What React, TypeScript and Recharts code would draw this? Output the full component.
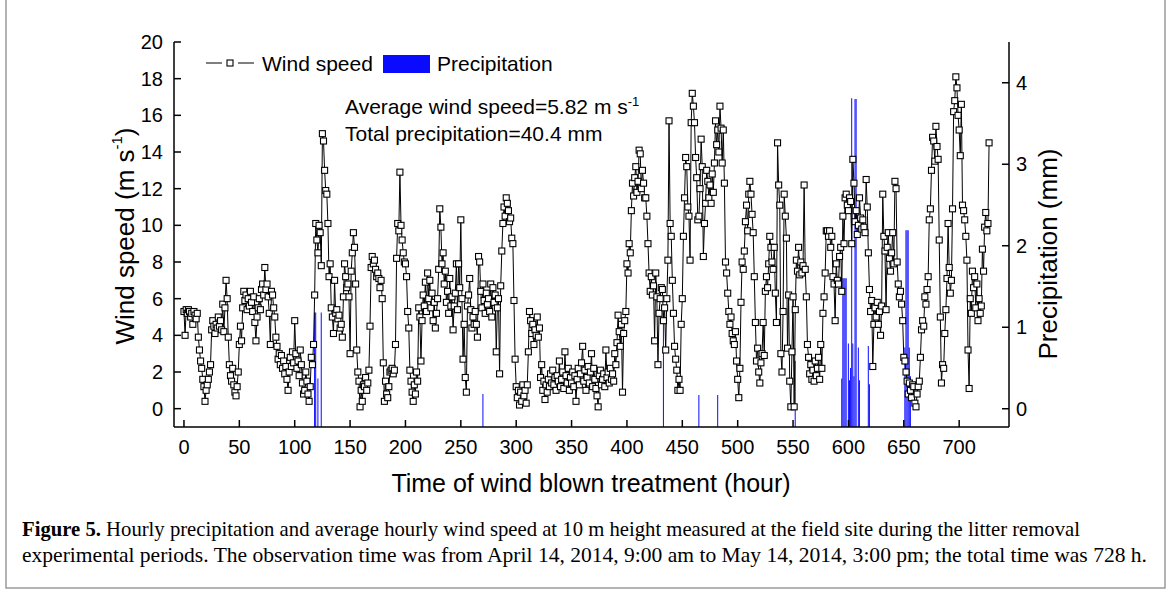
import React from "react";
import { ComposedChart, Line, Bar, XAxis, YAxis, Legend } from "recharts";

// hourly wind speed (m/s), split per 100 h
const wind000 = [
  5.3, 4.0, 5.4, 5.2, 5.4, 5.3, 5.0, 5.2, 4.6, 5.3,
  5.1, 4.9, 5.2, 3.9, 3.2, 2.6, 2.2, 1.6, 1.2, 0.4,
  1.0, 1.3, 1.6, 2.0, 2.4, 4.3, 4.8, 4.5, 4.1, 4.6,
  4.4, 5.0, 4.5, 4.8, 4.3, 5.7, 4.2, 5.5, 7.0, 6.0,
  3.9, 2.4, 1.8, 1.5, 2.2, 1.3, 0.9, 0.7, 1.2, 2.0,
  3.5, 4.5, 3.7, 5.5, 6.4, 5.9, 6.2, 5.4, 6.0, 5.6,
  6.4, 5.8, 5.3, 6.1, 4.7, 3.7, 5.0, 5.5, 6.0, 5.4,
  6.5, 6.8, 6.2, 7.7, 6.5, 6.8, 6.1, 5.2, 3.5, 6.4,
  6.2, 5.5, 5.0, 3.9, 3.4, 2.7, 3.0, 2.4, 2.9, 2.2,
  2.6, 1.9, 2.3, 1.6, 1.0, 2.0, 2.8, 2.3, 3.1, 2.5,
];
const wind100 = [
  4.8, 3.0, 2.2, 2.6, 1.8, 3.2, 2.4, 1.4, 0.8, 1.0,
  2.0, 1.5, 0.8, 0.4, 1.2, 2.8, 2.4, 3.5, 6.2, 10.1,
  9.2, 8.5, 10.0, 9.6, 7.8, 15.0, 14.6, 13.0, 11.9, 11.7,
  10.1, 7.2, 7.9, 5.5, 5.0, 4.1, 7.0, 5.2, 5.4, 4.9,
  5.1, 4.4, 4.6, 3.9, 6.1, 7.9, 7.2, 6.6, 6.8, 6.1,
  3.0, 7.5, 8.5, 9.6, 8.8, 6.8, 3.2, 2.0, 1.5, 0.1,
  1.0, 0.4, 1.3, 1.2, 1.7, 1.0, 1.4, 2.1, 4.5, 7.7,
  8.3, 7.9, 8.1, 7.6, 7.2, 7.4, 7.1, 6.6, 7.0, 6.0,
  2.5, 0.4, 1.5, 0.8, 0.6, 1.2, 2.0, 2.1, 2.2, 1.9,
  2.1, 3.5, 8.2, 10.1, 9.7, 12.9, 10.0, 9.2, 8.5, 8.0,
];
const wind200 = [
  7.9, 7.2, 5.3, 4.4, 2.1, 1.5, 0.9, 0.4, 1.3, 0.8,
  2.0, 1.5, 5.5, 5.0, 2.6, 4.8, 6.2, 5.6, 6.9, 5.3,
  7.4, 6.0, 7.0, 5.5, 6.3, 4.8, 5.8, 4.4, 5.2, 6.0,
  7.6, 10.9, 9.9, 7.9, 8.5, 6.8, 7.5, 5.8, 6.4, 5.2,
  7.1, 5.6, 6.1, 4.3, 5.6, 6.3, 7.9, 5.4, 7.9, 6.6,
  10.3, 6.0, 2.7, 4.6, 1.7, 0.9, 5.6, 6.2, 7.1, 5.4,
  4.4, 5.0, 4.6, 5.3, 4.6, 3.9, 8.3, 8.0, 6.4, 5.5,
  6.8, 5.9, 5.2, 6.3, 5.7, 6.0, 5.3, 6.8, 5.0, 6.6,
  5.8, 6.2, 3.1, 5.5, 6.0, 1.9, 6.7, 8.6, 10.1, 11.0,
  10.5, 11.5, 11.2, 10.8, 10.2, 10.4, 9.3, 9.0, 5.9, 2.7,
];
const wind300 = [
  1.2, 0.6, 1.0, 0.2, 0.9, 0.4, 1.3, 0.7, 1.0, 0.3,
  1.3, 3.1, 5.3, 4.8, 4.1, 4.6, 3.5, 4.3, 4.0, 5.0,
  3.9, 4.4, 1.7, 2.4, 1.0, 1.5, 0.5, 1.3, 0.9, 1.6,
  1.2, 1.9, 1.4, 2.1, 1.3, 1.7, 1.0, 1.8, 1.5, 2.6,
  1.2, 1.6, 2.0, 1.1, 3.1, 1.8, 1.4, 2.2, 1.0, 1.7,
  1.4, 2.0, 1.2, 1.8, 0.4, 1.6, 2.2, 1.3, 1.9, 2.5,
  3.4, 1.5, 2.1, 1.0, 1.7, 2.3, 1.4, 2.0, 3.0, 1.2,
  2.2, 1.6, 1.1, 0.7, 0.1, 1.8, 2.1, 1.3, 1.6, 1.9,
  1.2, 3.2, 1.7, 2.0, 1.4, 2.2, 1.6, 1.9, 1.5, 3.0,
  2.4, 3.6, 5.1, 4.2, 3.4, 4.6, 0.9, 4.1, 4.8, 5.3,
];
const wind400 = [
  7.9, 7.4, 9.0, 8.5, 10.8, 12.3, 11.6, 12.6, 13.2, 11.8,
  12.4, 14.1, 13.9, 12.0, 13.0, 12.3, 11.5, 11.5, 10.5, 9.0,
  7.4, 6.4, 7.2, 6.2, 6.7, 3.7, 7.4, 6.1, 2.4, 5.2,
  6.0, 6.6, 6.5, 4.8, 5.5, 3.2, 6.0, 8.1, 15.7, 10.1,
  9.4, 7.0, 5.2, 3.4, 2.7, 2.1, 1.0, 1.6, 1.0, 4.6,
  6.0, 9.4, 11.5, 13.7, 13.2, 11.0, 10.5, 8.1, 15.6, 17.2,
  16.5, 15.6, 13.7, 12.6, 10.3, 10.5, 12.0, 14.7, 13.2, 8.3,
  10.1, 11.2, 13.0, 12.4, 11.5, 12.2, 11.2, 12.8, 11.8, 13.4,
  15.7, 14.4, 15.2, 14.0, 16.5, 15.3, 13.4, 15.2, 12.3, 8.0,
  7.4, 6.3, 5.3, 4.6, 5.0, 4.1, 3.7, 3.5, 4.2, 2.6,
];
const wind500 = [
  1.6, 0.6, 2.2, 5.8, 8.0, 7.6, 8.6, 10.2, 11.1, 9.7,
  11.7, 12.4, 11.7, 10.6, 9.6, 7.2, 4.7, 2.6, 3.3, 2.0,
  1.4, 2.5, 3.0, 4.7, 2.9, 6.4, 7.2, 6.6, 7.9, 9.4,
  8.8, 8.0, 7.6, 8.8, 6.3, 4.7, 14.5, 12.2, 11.1, 3.0,
  2.0, 5.3, 11.7, 10.5, 9.3, 3.3, 6.2, 1.5, 0.1, 3.1,
  6.1, 0.1, 5.4, 8.1, 7.5, 8.8, 7.3, 8.0, 7.4, 7.8,
  12.2, 7.6, 6.1, 3.5, 2.8, 1.9, 2.4, 1.6, 2.1, 1.5,
  2.6, 1.8, 2.2, 2.8, 1.6, 3.5, 2.2, 5.2, 6.1, 7.4,
  9.7, 9.7, 9.4, 9.7, 8.8, 9.4, 7.2, 6.8, 4.8, 7.9,
  7.0, 6.8, 8.3, 8.8, 6.4, 10.5, 9.0, 11.5, 11.7, 11.1,
];
const wind600 = [
  10.8, 11.5, 11.3, 9.0, 13.6, 12.3, 10.2, 10.8, 9.5, 10.0,
  11.5, 10.4, 9.8, 10.3, 9.9, 9.6, 12.5, 11.0, 8.5, 6.5,
  5.3, 5.9, 2.3, 4.6, 5.5, 5.0, 5.8, 4.6, 5.3, 4.0,
  5.6, 11.7, 9.4, 8.6, 5.4, 8.8, 9.6, 8.2, 7.5, 8.5,
  9.6, 7.9, 12.4, 12.0, 8.0, 6.8, 6.1, 6.4, 5.7, 4.8,
  2.8, 2.6, 2.0, 1.5, 0.8, 1.4, 1.0, 0.6, 1.3, 1.2,
  0.3, 0.1, 0.8, 1.2, 1.5, 2.8, 4.3, 4.8, 4.5, 6.1,
  5.7, 6.5, 7.2, 10.3, 10.9, 13.0, 14.8, 14.6, 13.5, 15.4,
  14.3, 13.6, 9.2, 5.0, 1.4, 2.4, 2.2, 4.1, 5.4, 7.1,
  10.1, 7.7, 6.3, 7.0, 10.9, 16.2, 16.8, 18.1, 17.5, 16.0,
];
const wind700 = [
  15.2, 13.8, 16.6, 11.1, 10.8, 10.3, 9.4, 8.1, 3.2, 1.1,
  6.0, 5.2, 7.5, 6.6, 7.2, 5.5, 6.8, 4.8, 6.0, 5.2,
  5.6, 8.7, 7.5, 9.9, 10.7, 9.7, 10.1, 14.5,
];

// hourly precipitation (mm): hour of the bar and its height
const rainHours = [
  118, 119, 121, 124, 270, 433, 465, 482, 552,
  594, 595, 596, 597, 598, 600, 601, 602, 603, 604, 605, 606, 607, 609, 610,
  618, 619, 651, 652, 653, 654, 655, 656,
];
const rainAmounts = [
  1.18, 1.18, 0.37, 1.18, 0.18, 1.18, 0.17, 0.17, 0.59,
  0.37, 1.6, 1.6, 1.6, 1.6, 0.8, 0.35, 0.5, 3.81, 0.8, 0.4, 3.8, 3.8, 0.75, 0.35,
  0.77, 0.3, 0.75, 2.19, 2.19, 2.19, 0.75, 0.4,
];

const hourTicks = [0, 50, 100, 150, 200, 250, 300, 350, 400, 450, 500, 550, 600, 650, 700];
const windTicks = [0, 2, 4, 6, 8, 10, 12, 14, 16, 18, 20];
const rainTicks = [0, 1, 2, 3, 4];

const FONT = "'Liberation Sans', Arial, sans-serif";
const SERIF = "'Liberation Serif', 'Times New Roman', serif";
const BLUE = "#0a0aff";
const RAIN_MIN = -0.224;

// plot frame in page pixels
const PLOT_LEFT = 174;
const PLOT_RIGHT = 1009;
const PLOT_BOTTOM = 427;
const TICK_LEN = 7;

const windSpeed = [...wind000, ...wind100, ...wind200, ...wind300, ...wind400, ...wind500, ...wind600, ...wind700];
const rainByHour = new Map(rainHours.map((h, i) => [h, rainAmounts[i]]));

const data = windSpeed.map((w, hour) => ({
  hour,
  wind: w,
  rain: rainByHour.has(hour) ? rainByHour.get(hour) : null,
}));

const Square = (props: any) => {
  const { cx, cy, index } = props;
  if (cx == null || cy == null) return null;
  return (
    <rect key={`sq-${index}`} x={cx - 3} y={cy - 3} width={6} height={6} fill="#fff" stroke="#000" strokeWidth={1.1} />
  );
};

// ticks point into the plot, like the Origin original
const XTick = (props: any) => {
  const { x, y, payload } = props;
  return (
    <g>
      <line x1={x} x2={x} y1={PLOT_BOTTOM} y2={PLOT_BOTTOM - TICK_LEN} stroke="#000" strokeWidth={1.5} />
      <text x={x} y={y} dy="0.71em" textAnchor="middle" fontSize={20} fontFamily={FONT} fill="#000">
        {payload.value}
      </text>
    </g>
  );
};

const LeftTick = (props: any) => {
  const { x, y, payload } = props;
  return (
    <g>
      <line x1={PLOT_LEFT} x2={PLOT_LEFT + TICK_LEN} y1={y} y2={y} stroke="#000" strokeWidth={1.5} />
      <text x={x} y={y} dy="0.355em" textAnchor="end" fontSize={20} fontFamily={FONT} fill="#000">
        {payload.value}
      </text>
    </g>
  );
};

const RightTick = (props: any) => {
  const { x, y, payload } = props;
  return (
    <g>
      <line x1={PLOT_RIGHT} x2={PLOT_RIGHT - TICK_LEN} y1={y} y2={y} stroke="#000" strokeWidth={1.5} />
      <text x={x} y={y} dy="0.355em" textAnchor="start" fontSize={20} fontFamily={FONT} fill="#000">
        {payload.value}
      </text>
    </g>
  );
};

const renderLegend = (props: any) => {
  const items = props.payload || [];
  const windName = items.find((p: any) => p.dataKey === "wind")?.value ?? "Wind speed";
  const rainName = items.find((p: any) => p.dataKey !== "wind")?.value ?? "Precipitation";
  return (
    <svg width={1170} height={100} style={{ position: "absolute", left: 0, top: 0, overflow: "visible" }}>
      <line x1={206} x2={222} y1={63} y2={63} stroke="#000" strokeWidth={1} />
      <rect x={227} y={60} width={6} height={6} fill="#fff" stroke="#000" strokeWidth={1.1} />
      <line x1={238} x2={254} y1={63} y2={63} stroke="#000" strokeWidth={1} />
      <text x={262} y={70.5} fontSize={21} fontFamily={FONT} fill="#000">{windName}</text>
      <rect x={383} y={55} width={47} height={18} fill={BLUE} />
      <text x={437} y={70.5} fontSize={21} fontFamily={FONT} fill="#000">{rainName}</text>
    </svg>
  );
};

export default function App() {
  const axisStroke = { stroke: "#000", strokeWidth: 1.5 };
  return (
    <div style={{ position: "absolute", left: 0, top: 0, width: 1170, height: 594, background: "#fff" }}>
      <ComposedChart
        width={1170}
        height={594}
        data={data}
        margin={{ top: 42, right: 101, bottom: 137, left: 114 }}
      >
        <XAxis
          dataKey="hour"
          type="number"
          domain={[-9, 745]}
          allowDataOverflow
          ticks={hourTicks}
          interval={0}
          height={30}
          tickSize={0}
          tickMargin={13}
          tick={XTick}
          axisLine={axisStroke}
          tickLine={false}
        />
        <XAxis
          xAxisId="top"
          orientation="top"
          dataKey="hour"
          type="number"
          domain={[-9, 745]}
          allowDataOverflow
          height={0}
          tick={false}
          tickLine={false}
          axisLine={axisStroke}
        />
        <YAxis
          yAxisId="wind"
          domain={[-1, 20]}
          allowDataOverflow
          ticks={windTicks}
          interval={0}
          width={60}
          tickSize={0}
          tickMargin={11}
          tick={LeftTick}
          axisLine={axisStroke}
          tickLine={false}
        />
        <YAxis
          yAxisId="rain"
          orientation="right"
          domain={[RAIN_MIN, 4.5]}
          allowDataOverflow
          ticks={rainTicks}
          interval={0}
          width={60}
          tickSize={0}
          tickMargin={7}
          tick={RightTick}
          axisLine={axisStroke}
          tickLine={false}
        />
        <Legend
          content={renderLegend}
          layout="horizontal"
          verticalAlign="middle"
          wrapperStyle={{ top: 0, left: 0, width: 1170, height: 100 }}
        />
        <Bar
          yAxisId="rain"
          name="Precipitation"
          dataKey={(d: any) => (d.rain != null ? [RAIN_MIN, d.rain] : [RAIN_MIN, RAIN_MIN])}
          fill={BLUE}
          barSize={2}
          isAnimationActive={false}
        />
        <Line
          yAxisId="wind"
          name="Wind speed"
          dataKey="wind"
          type="linear"
          stroke="#000"
          strokeWidth={1}
          dot={Square}
          activeDot={false}
          isAnimationActive={false}
        />
      </ComposedChart>
      <svg
        width={1170}
        height={594}
        style={{ position: "absolute", left: 0, top: 0, pointerEvents: "none" }}
      >
        <text x={345} y={114} fontSize={21} fontFamily={FONT} fill="#000">
          Average wind speed=5.82 m s<tspan dy={-8} fontSize={13}>-1</tspan>
        </text>
        <text x={345} y={141} fontSize={21} fontFamily={FONT} fill="#000">
          Total precipitation=40.4 mm
        </text>
        <text
          transform="translate(125,236) rotate(-90)"
          textAnchor="middle"
          dominantBaseline="central"
          fontSize={26}
          fontFamily={FONT}
          fill="#000"
        >
          Wind speed (m s<tspan dy={-9} fontSize={15}>-1</tspan>
          <tspan dy={9}>)</tspan>
        </text>
        <text
          transform="translate(1048,254) rotate(-90)"
          textAnchor="middle"
          dominantBaseline="central"
          fontSize={26}
          fontFamily={FONT}
          fill="#000"
        >
          Precipitation (mm)
        </text>
        <text x={591} y={492} textAnchor="middle" fontSize={25} fontFamily={FONT} fill="#000">
          Time of wind blown treatment (hour)
        </text>
        <text x={22} y={536} fontSize={22} fontFamily={SERIF} fill="#000" textLength={1058} lengthAdjust="spacingAndGlyphs">
          <tspan fontWeight="bold">Figure 5.</tspan> Hourly precipitation and average hourly wind speed at 10 m height measured at the field site during the litter removal
        </text>
        <text x={22} y={562} fontSize={22} fontFamily={SERIF} fill="#000" textLength={1125} lengthAdjust="spacingAndGlyphs">
          experimental periods. The observation time was from April 14, 2014, 9:00 am to May 14, 2014, 3:00 pm; the total time was 728 h.
        </text>
        <path d="M6 0 V588 H1165 V0" fill="none" stroke="#9a9a9a" strokeWidth={1.5} />
      </svg>
    </div>
  );
}
